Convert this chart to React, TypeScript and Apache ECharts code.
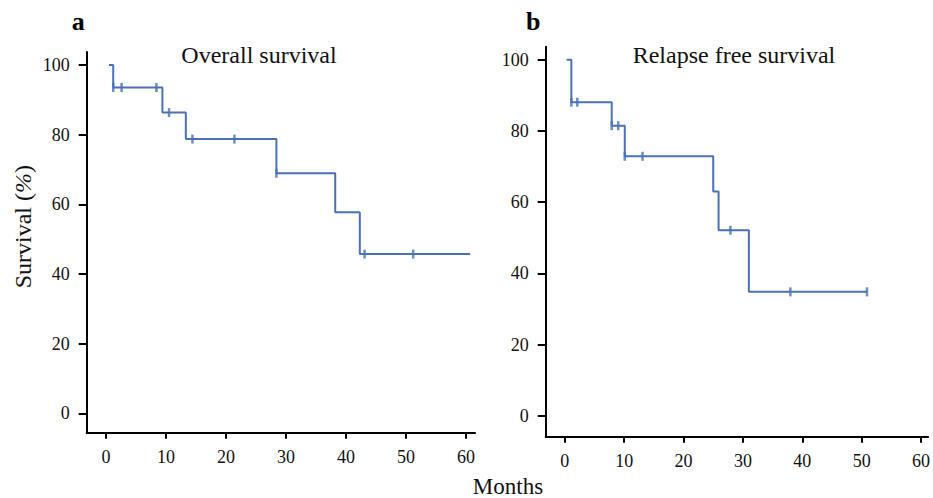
import React, { useEffect, useRef } from "react";
import * as echarts from "echarts";

// Panel a: Overall survival (Kaplan–Meier steps)
const osTimes = [0.5, 1.2, 9.4, 13.3, 28.4, 38.2, 42.3, 60.7];
const osSurv = [100, 93.5, 86.3, 78.7, 68.9, 57.7, 45.7, 45.7];
const osCensorTimes = [1.2, 2.6, 8.4, 10.5, 14.4, 21.4, 28.4, 43.1, 51.2];
const osCensorSurv = [93.5, 93.5, 93.5, 86.3, 78.7, 78.7, 68.9, 45.7, 45.7];

// Panel b: Relapse free survival
const rfsTimes = [0.3, 1.1, 7.9, 10.1, 25.0, 25.9, 31.0, 50.9];
const rfsSurv = [100, 88.1, 81.5, 72.9, 63.0, 52.1, 34.8, 34.8];
const rfsCensorTimes = [1.1, 2.1, 7.9, 9.0, 10.1, 13.1, 27.9, 38.0, 50.9];
const rfsCensorSurv = [88.1, 88.1, 81.5, 81.5, 72.9, 72.9, 52.1, 34.8, 34.8];

const xTicks = [0, 10, 20, 30, 40, 50, 60];
const yTicks = [0, 20, 40, 60, 80, 100];

const titles = ["Overall survival", "Relapse free survival"];
const panelLetters = ["a", "b"];
const xAxisName = "Months";

const FONT = "Liberation Serif";
const BLUE = "#4a70b8";

export default function App() {
  const ref = useRef<HTMLDivElement>(null);
  useEffect(() => {
    if (!ref.current) return;
    const chart = echarts.init(ref.current, null, { renderer: "svg" });
    const zip = (a: number[], b: number[]) => a.map((v, i) => [v, b[i]]);
    const xAxisCommon = (gridIndex: number, min: number, max: number) => ({
      type: "value",
      gridIndex,
      min,
      max,
      splitLine: { show: false },
      axisLine: { show: true, onZero: false, lineStyle: { color: "#000", width: 2 } },
      axisTick: { show: true, length: 6, lineStyle: { color: "#000", width: 2 }, customValues: xTicks },
      axisLabel: { color: "#111", fontFamily: FONT, fontSize: 18, margin: 15, customValues: xTicks },
    });
    const yAxisCommon = (gridIndex: number, min: number, max: number) => ({
      type: "value",
      gridIndex,
      min,
      max,
      splitLine: { show: false },
      axisLine: { show: true, onZero: false, lineStyle: { color: "#000", width: 2 } },
      axisTick: { show: true, length: 8, lineStyle: { color: "#000", width: 2 }, customValues: yTicks },
      axisLabel: { color: "#111", fontFamily: FONT, fontSize: 18, margin: 17, customValues: yTicks },
    });
    const textStyle = (text: string, size: number, extra: any = {}) => ({
      text, fontFamily: FONT, fontSize: size, fill: "#111", align: "center", verticalAlign: "middle", ...extra,
    });
    chart.setOption({
      animation: false,
      backgroundColor: "#fff",
      textStyle: { fontFamily: FONT },
      grid: [
        { left: 86.7, top: 52, width: 388.3, height: 380.7 },
        { left: 545.7, top: 46.7, width: 386.3, height: 390 },
      ],
      xAxis: [xAxisCommon(0, -3.22, 61.5), xAxisCommon(1, -3.22, 61.2)],
      yAxis: [yAxisCommon(0, -5.57, 103.7), yAxisCommon(1, -5.9, 103.7)],
      series: [
        {
          type: "line", xAxisIndex: 0, yAxisIndex: 0, step: "end", showSymbol: false,
          data: zip(osTimes, osSurv), lineStyle: { color: BLUE, width: 2 }, itemStyle: { color: BLUE },
        },
        {
          type: "scatter", xAxisIndex: 0, yAxisIndex: 0, symbol: "rect", symbolSize: [2.5, 9],
          data: zip(osCensorTimes, osCensorSurv), itemStyle: { color: BLUE },
        },
        {
          type: "line", xAxisIndex: 1, yAxisIndex: 1, step: "end", showSymbol: false,
          data: zip(rfsTimes, rfsSurv), lineStyle: { color: BLUE, width: 2 }, itemStyle: { color: BLUE },
        },
        {
          type: "scatter", xAxisIndex: 1, yAxisIndex: 1, symbol: "rect", symbolSize: [2.5, 9],
          data: zip(rfsCensorTimes, rfsCensorSurv), itemStyle: { color: BLUE },
        },
      ],
      graphic: [
        { type: "text", x: 259, y: 55, style: textStyle(titles[0], 24) },
        { type: "text", x: 734, y: 54.5, style: textStyle(titles[1], 24) },
        { type: "text", x: 78.3, y: 21.5, style: textStyle(panelLetters[0], 26, { fontWeight: "bold", fill: "#000" }) },
        { type: "text", x: 533.3, y: 21.5, style: textStyle(panelLetters[1], 26, { fontWeight: "bold", fill: "#000" }) },
        { type: "text", x: 508, y: 486.5, style: textStyle(xAxisName, 23) },
        {
          type: "text", x: 22.5, y: 226.7, rotation: Math.PI / 2,
          style: {
            text: "{r|Survival (}{i|%}{r|)}",
            align: "center", verticalAlign: "middle", fill: "#111",
            rich: {
              r: { fontFamily: FONT, fontSize: 24, fill: "#111" },
              i: { fontFamily: FONT, fontSize: 24, fontStyle: "italic", fill: "#111" },
            },
          },
        },
      ],
    });
    return () => chart.dispose();
  }, []);
  return <div ref={ref} style={{ position: "fixed", left: 0, top: 0, width: 933, height: 498 }} />;
}
